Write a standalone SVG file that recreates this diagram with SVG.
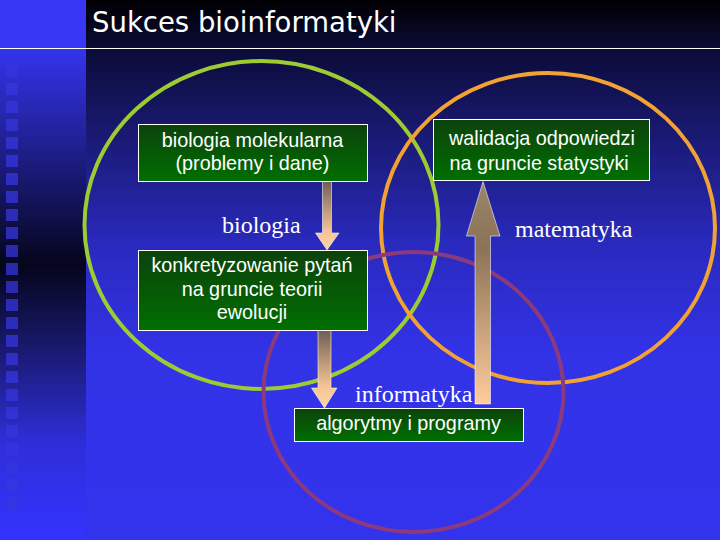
<svg xmlns="http://www.w3.org/2000/svg" width="720" height="540" viewBox="0 0 720 540">
  <defs>
    <linearGradient id="bgMain" x1="0" y1="0" x2="0" y2="540" gradientUnits="userSpaceOnUse">
      <stop offset="0" stop-color="#000002"/>
      <stop offset="0.09" stop-color="#0b0b38"/>
      <stop offset="0.22" stop-color="#171768"/>
      <stop offset="0.46" stop-color="#2a2ac0"/>
      <stop offset="0.65" stop-color="#3232e6"/>
      <stop offset="1" stop-color="#3333ee"/>
    </linearGradient>
    <linearGradient id="bgStrip" x1="0" y1="48" x2="0" y2="540" gradientUnits="userSpaceOnUse">
      <stop offset="0" stop-color="#3434ee"/>
      <stop offset="0.23" stop-color="#1c1c80"/>
      <stop offset="0.44" stop-color="#05051c"/>
      <stop offset="0.6" stop-color="#18186a"/>
      <stop offset="0.8" stop-color="#2e2ed8"/>
      <stop offset="1" stop-color="#3333ff"/>
    </linearGradient>
    <linearGradient id="boxFill" x1="0" y1="0" x2="0" y2="1">
      <stop offset="0" stop-color="#0c420c"/>
      <stop offset="1" stop-color="#006f00"/>
    </linearGradient>
    <linearGradient id="arrowDown" x1="0" y1="0" x2="0" y2="1">
      <stop offset="0" stop-color="#6e5e54"/>
      <stop offset="0.72" stop-color="#f4c494"/>
      <stop offset="1" stop-color="#ffd4a8"/>
    </linearGradient>
    <linearGradient id="arrowUp" x1="0" y1="0" x2="0" y2="1">
      <stop offset="0" stop-color="#9c846a"/>
      <stop offset="0.3" stop-color="#8b7358"/>
      <stop offset="1" stop-color="#ffcc9c"/>
    </linearGradient>
    <style>
      .ring { fill: none; stroke-width: 4; }
      .box { fill: url(#boxFill); stroke: #ffffff; stroke-width: 1; }
      .bt { font-family: "Liberation Sans", Arial, sans-serif; font-size: 19.8px; fill: #ffffff; }
      .lbl { font-family: "Liberation Serif", "Times New Roman", serif; font-size: 24px; fill: #ffffff; }
      .arr { stroke: #ffffff; stroke-opacity: 0.55; stroke-width: 1; }
      .sq { fill: #3535dd; opacity: 0.75; }
    </style>
  </defs>

  <!-- background -->
  <rect x="0" y="0" width="720" height="540" fill="url(#bgMain)"/>
  <rect x="0" y="48" width="86" height="492" fill="url(#bgStrip)"/>
  <rect x="0" y="0" width="86" height="48" fill="#3737f5"/>
  <g id="squares">
    <rect class="sq" x="6" y="65" width="12" height="12"/>
    <rect class="sq" x="6" y="83" width="12" height="12"/>
    <rect class="sq" x="6" y="101" width="12" height="12"/>
    <rect class="sq" x="6" y="119" width="12" height="12"/>
    <rect class="sq" x="6" y="137" width="12" height="12"/>
    <rect class="sq" x="6" y="155" width="12" height="12"/>
    <rect class="sq" x="6" y="173" width="12" height="12"/>
    <rect class="sq" x="6" y="191" width="12" height="12"/>
    <rect class="sq" x="6" y="209" width="12" height="12"/>
    <rect class="sq" x="6" y="227" width="12" height="12"/>
    <rect class="sq" x="6" y="245" width="12" height="12"/>
    <rect class="sq" x="6" y="263" width="12" height="12"/>
    <rect class="sq" x="6" y="281" width="12" height="12"/>
    <rect class="sq" x="6" y="299" width="12" height="12"/>
    <rect class="sq" x="6" y="317" width="12" height="12"/>
    <rect class="sq" x="6" y="335" width="12" height="12"/>
    <rect class="sq" x="6" y="353" width="12" height="12"/>
    <rect class="sq" x="6" y="371" width="12" height="12"/>
    <rect class="sq" x="6" y="389" width="12" height="12"/>
    <rect class="sq" x="6" y="407" width="12" height="12"/>
    <rect class="sq" x="6" y="425" width="12" height="12"/>
    <rect class="sq" x="6" y="443" width="12" height="12"/>
    <rect class="sq" x="6" y="461" width="12" height="12"/>
    <rect class="sq" x="6" y="479" width="12" height="12"/>
    <rect class="sq" x="6" y="497" width="12" height="12"/>
  </g>
  <line x1="0" y1="48.5" x2="720" y2="48.5" stroke="#ffffff" stroke-width="1"/>

  <g id="title">
    <text x="92" y="32" font-family="'DejaVu Sans', Verdana, sans-serif" font-size="27.5" fill="#ffffff">Sukces bioinformatyki</text>
  </g>

  <!-- circles -->
  <g id="circle-biologia">
    <ellipse class="ring" cx="261.5" cy="225" rx="177" ry="164" stroke="#9ccb32"/>
  </g>
  <g id="circle-matematyka">
    <ellipse class="ring" cx="548" cy="228" rx="167" ry="155" stroke="#f2a133"/>
  </g>
  <g id="circle-informatyka">
    <ellipse class="ring" cx="413.5" cy="392" rx="150" ry="140" stroke="#8b3a7e"/>
  </g>

  <!-- connectors -->
  <g id="connectors">
    <polygon class="arr" fill="url(#arrowDown)" points="322.5,181 331.5,181 331.5,233 339,233 327,250 315.5,233 322.5,233"/>
    <polygon class="arr" fill="url(#arrowDown)" points="318,330 331,330 331,388 337,388 324.5,408 311.5,388 318,388"/>
    <polygon class="arr" fill="url(#arrowUp)" points="483,181.5 500,236 490.5,236 490.5,404 475,404 475,236 466.5,236"/>
  </g>

  <!-- boxes -->
  <g id="box-biologia-molekularna">
    <rect class="box" x="138.5" y="124.5" width="229" height="57"/>
    <text class="bt" x="252.5" y="147" text-anchor="middle">biologia molekularna</text>
    <text class="bt" x="252.5" y="170" text-anchor="middle">(problemy i dane)</text>
  </g>
  <g id="box-walidacja">
    <rect class="box" x="433.5" y="119.5" width="216" height="61"/>
    <text class="bt" x="449" y="145">walidacja odpowiedzi</text>
    <text class="bt" x="449.5" y="170">na gruncie statystyki</text>
  </g>
  <g id="box-konkretyzowanie">
    <rect class="box" x="138.5" y="250.5" width="229" height="80"/>
    <text class="bt" x="252" y="272" text-anchor="middle">konkretyzowanie pytań</text>
    <text class="bt" x="252" y="296" text-anchor="middle">na gruncie teorii</text>
    <text class="bt" x="252" y="319" text-anchor="middle">ewolucji</text>
  </g>
  <g id="box-algorytmy">
    <rect class="box" x="294.5" y="408.5" width="229" height="33"/>
    <text class="bt" x="408.5" y="430" text-anchor="middle">algorytmy i programy</text>
  </g>

  <!-- labels -->
  <g id="labels">
    <text class="lbl" x="222" y="233">biologia</text>
    <text class="lbl" x="515" y="237">matematyka</text>
    <text class="lbl" x="355" y="402">informatyka</text>
  </g>
</svg>
